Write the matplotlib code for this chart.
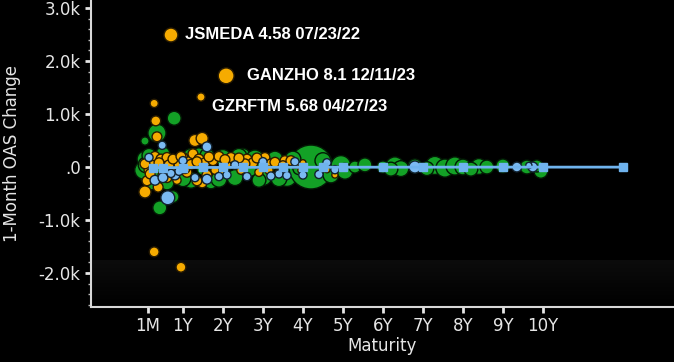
import numpy as np
import matplotlib
matplotlib.use("Agg")
from matplotlib import pyplot as plt
from matplotlib.colors import LinearSegmentedColormap
from matplotlib.ticker import FuncFormatter, MultipleLocator

# maturity in years, 1-month OAS change in bp, bubble size (amount outstanding)
green_mat = [0.35, 0.78, 0.05, 0.05, 0.1, 0.2, 0.42, 0.75, 0.5, 1.2, 1.2, 1.7, 2.0, 2.3, 2.5, 2.8,
             3.0, 3.3, 3.6, 4.2, 4.5, 4.7, 4.95, 5.05, 5.3, 5.55, 6.0, 6.3, 6.45, 6.8, 7.3, 7.55,
             7.8, 8.0, 8.4, 8.6, 9.0, 9.6, 9.95, 9.85, 0.9, 1.5, 2.1, 2.7, 3.2, 3.9,
             0.02, 0.08, 0.15, 0.6, 1.0, 1.4, 1.9, 2.4, 3.4, 3.75, 2.9, 1.6, 0.3, 6.2, 7.1, 8.2]
green_chg = [640, 920, 490, 150, -150, -300, -770, -560, 250, 200, -250, -280, 180, -200, 220, 150,
             -180, 150, -180, 0, 120, -150, 30, -80, 0, 40, 0, 20, -30, 20, 30, -20,
             20, 0, 10, 0, 20, 0, -80, 20, 60, -40, 50, -60, 40, -30,
             -60, 40, 220, -300, -220, 230, -230, 200, -220, 150, -250, 220, -120, -40, -30, -40]
green_amt = [170, 100, 35, 130, 130, 100, 100, 75, 100, 130, 130, 100, 130, 130, 100, 170,
             170, 130, 200, 1000, 130, 130, 200, 130, 75, 100, 75, 170, 130, 100, 170, 170,
             170, 130, 130, 100, 100, 100, 100, 75, 75, 75, 75, 75, 75, 75,
             170, 130, 100, 100, 130, 100, 130, 130, 130, 130, 100, 100, 100, 100, 100, 100]

orange_mat = [0.7, 2.08, 1.45, 0.28, 0.32, 0.35, 1.3, 1.48, 0.28, 0.95, 0.05, 0.38, 1.48, 1.35, 0.1,
              0.1, 0.2, 0.3, 0.45, 0.55, 0.6, 0.7, 0.8, 0.9, 1.0, 1.1, 1.15, 1.25, 1.4, 1.55,
              1.6, 1.75, 1.9, 2.0, 2.15, 2.3, 2.45, 2.6, 2.75, 2.9, 3.05, 3.2, 3.4, 3.55, 3.8,
              3.95, 0.15, 0.5, 0.6, 0.85, 2.2, 1.8, 4.0, 4.6, 4.8, 0.25, 0.65, 1.05, 3.3, 2.5,
              0.4, 0.75, 1.2, 1.65, 2.05, 2.55, 2.85, 3.15, 3.5, 3.7, 0.95, 1.35, 2.4, 0.05, 0.18]
orange_chg = [2490, 1720, 1320, 1200, 870, 570, 500, 540, -1600, -1890, -470, -380, -300, -260, -260,
              80, 120, 200, 150, 80, 180, -80, 120, 50, 180, -100, 100, 250, 150, 80,
              -150, 120, 200, -120, 60, 120, -60, 150, 80, -100, 180, 60, -120, 120, 50,
              -60, -50, -150, -200, -250, 180, -60, 80, -50, -150, 30, 40, -30, 90, 30,
              80, 150, 50, 190, 140, 60, 170, -60, 40, 120, 200, 100, 170, 60, -130]
orange_amt = [100, 130, 35, 35, 50, 50, 75, 75, 50, 50, 75, 50, 50, 50, 50,
              50, 50, 50, 50, 50, 50, 50, 50, 50, 50, 50, 50, 50, 50, 50,
              50, 50, 50, 35, 50, 50, 35, 50, 50, 35, 50, 50, 35, 50, 35,
              20, 50, 50, 50, 35, 50, 35, 20, 20, 20, 50, 50, 50, 50, 50,
              50, 50, 50, 50, 50, 50, 50, 35, 35, 50, 50, 50, 50, 50, 50]

blue_mat = [0.48, 1.6, 0.62, 0.3, 0.5, 0.8, 1.3, 1.6, 1.0, 2.1, 2.6, 3.0, 3.4, 3.8, 4.0, 4.6,
            4.8, 6.8, 9.35, 9.75, 9.65, 0.15, 0.9, 2.3, 1.9, 3.2, 3.6, 4.4, 0.7]
blue_chg = [410, 380, -580, -250, -200, -150, -200, -230, 120, -150, -180, 100, -130, 100, -150, 80,
            -50, 0, 0, 0, 30, 180, -80, 40, -180, -170, -160, -140, -120]
blue_amt = [35, 50, 100, 50, 50, 50, 35, 50, 35, 35, 35, 35, 35, 35, 35, 35,
            35, 75, 50, 50, 20, 35, 35, 35, 35, 35, 35, 35, 35]

curve_mat = [0.25, 0.5, 1, 1.5, 2, 2.5, 3, 3.5, 4, 4.5, 5, 6, 7, 8, 9, 10, 12]
curve_chg = [-10, -12, -10, -8, -8, -6, -6, -5, -5, -4, -4, -3, -3, -2, -2, -2, -2]

labels = ["JSMEDA 4.58 07/23/22", "GANZHO 8.1 12/11/23", "GZRFTM 5.68 04/27/23"]
label_mat = [0.7, 2.08, 1.45]
label_chg = [2490, 1720, 1320]
label_off = [(10, 0), (15, 0), (8, -7)]

tick_pos = [0.125, 1, 2, 3, 4, 5, 6, 7, 8, 9, 10]
tick_lbl = ["1M", "1Y", "2Y", "3Y", "4Y", "5Y", "6Y", "7Y", "8Y", "9Y", "10Y"]

fig = plt.figure(figsize=(6.74, 3.62), dpi=100, facecolor="black")
ax = fig.add_axes([91 / 674, 55 / 362, 583 / 674, 307 / 362])
ax.set_facecolor("black")

# faint band near the bottom
grad = np.linspace(0, 1, 50).reshape(-1, 1)
ax.imshow(grad, cmap=LinearSegmentedColormap.from_list("g", ["#0c0c0c", "#000000"]),
          extent=[0, 1, 0, 0.15], transform=ax.transAxes, aspect="auto", zorder=0)

ax.scatter(green_mat, green_chg, s=green_amt, c="#13a126", edgecolors="#031a05", linewidths=1, zorder=2)
ax.scatter(orange_mat, orange_chg, s=orange_amt, c="#f6ab00", edgecolors="#2a1c00", linewidths=1, zorder=3)
ax.scatter(blue_mat, blue_chg, s=blue_amt, c="#7bbaf2", edgecolors="#12222f", linewidths=1, zorder=4)
ax.plot(curve_mat, curve_chg, color="#6fb3ee", lw=2, marker="s", ms=6, zorder=5)

for t, xm, yc, off in zip(labels, label_mat, label_chg, label_off):
    ax.annotate(t, (xm, yc), xytext=off, textcoords="offset points", va="center", ha="left",
                color="white", fontsize=12, fontweight="bold", family="Liberation Sans", zorder=6)

ax.set_xlim(-1.3, 13.28)
ax.set_ylim(-2640, 3150)
ax.set_xticks(tick_pos)
ax.set_xticklabels(tick_lbl)
ax.yaxis.set_major_locator(MultipleLocator(1000))
ax.yaxis.set_minor_locator(MultipleLocator(200))


def kfmt(v, pos):
    if abs(v) < 1e-9:
        return ".0"
    return "%.1fk" % (v / 1000)


ax.yaxis.set_major_formatter(FuncFormatter(kfmt))

for side in ["top", "right"]:
    ax.spines[side].set_visible(False)
for side in ["left", "bottom"]:
    ax.spines[side].set_color("#d8d8d8")
    ax.spines[side].set_linewidth(1.5)

ax.tick_params(axis="both", which="major", colors="#e6e6e6", labelsize=12, length=4, width=2)
ax.tick_params(axis="y", which="minor", colors="#bbbbbb", length=2, width=1)
ax.set_xlabel("Maturity", color="#e6e6e6", fontsize=12, labelpad=1)
ax.set_ylabel("1-Month OAS Change", color="#e6e6e6", fontsize=12, labelpad=13)

fig.savefig("out.png", dpi=100, facecolor="black")
